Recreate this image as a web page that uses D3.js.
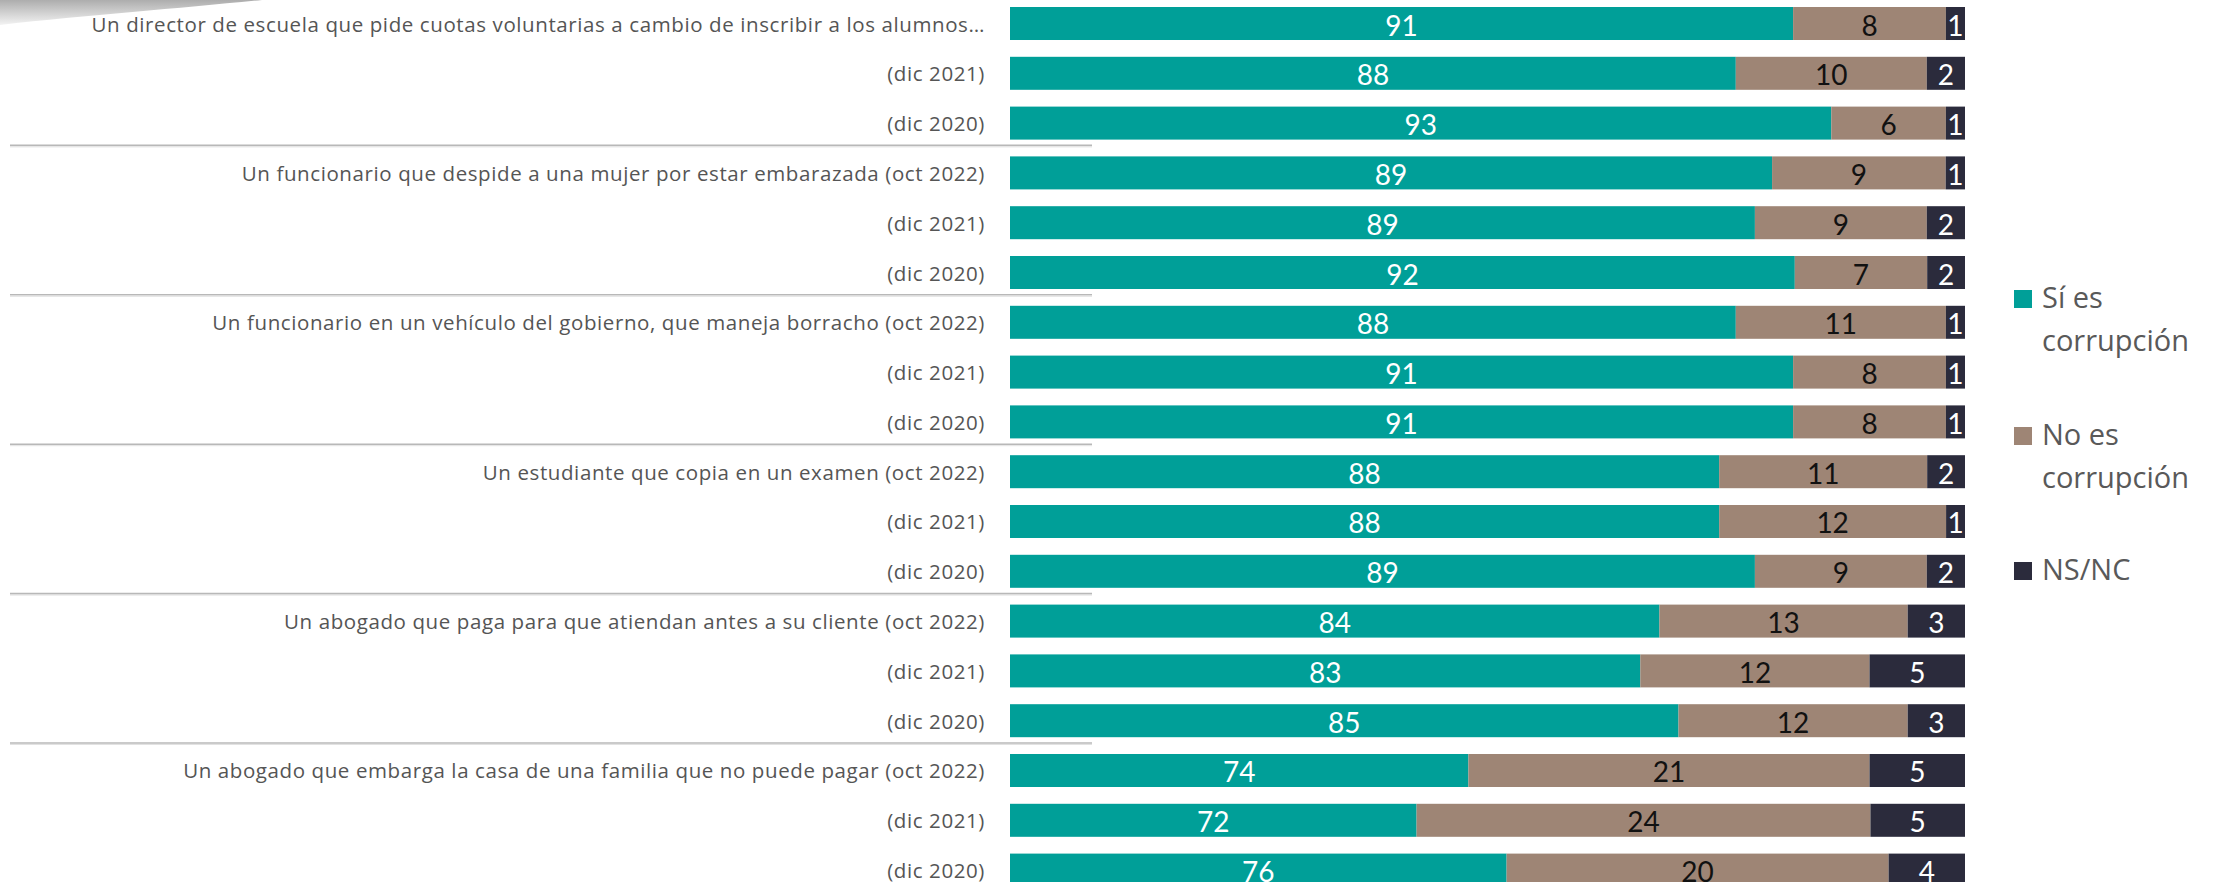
<!DOCTYPE html>
<html>
<head>
<meta charset="utf-8">
<script src="https://cdn.jsdelivr.net/npm/d3@7"></script>
<style>
  html, body { margin: 0; padding: 0; background: #fff; }
  svg { display: block; font-family: Lato, "Open Sans", sans-serif; }
</style>
</head>
<body>
<script>
'use strict';

// rows, top to bottom
const labels = [
  "Un director de escuela que pide cuotas voluntarias a cambio de inscribir a los alumnos…",
  "(dic 2021)",
  "(dic 2020)",
  "Un funcionario que despide a una mujer por estar embarazada (oct 2022)",
  "(dic 2021)",
  "(dic 2020)",
  "Un funcionario en un vehículo del gobierno, que maneja borracho (oct 2022)",
  "(dic 2021)",
  "(dic 2020)",
  "Un estudiante que copia en un examen (oct 2022)",
  "(dic 2021)",
  "(dic 2020)",
  "Un abogado que paga para que atiendan antes a su cliente (oct 2022)",
  "(dic 2021)",
  "(dic 2020)",
  "Un abogado que embarga la casa de una familia que no puede pagar (oct 2022)",
  "(dic 2021)",
  "(dic 2020)"
];

const siEs = [91, 88, 93, 89, 89, 92, 88, 91, 91, 88, 88, 89, 84, 83, 85, 74, 72, 76];
const noEs = [8, 10, 6, 9, 9, 7, 11, 8, 8, 11, 12, 9, 13, 12, 12, 21, 24, 20];
const nsnc = [1, 2, 1, 1, 2, 2, 1, 1, 1, 2, 1, 2, 3, 5, 3, 5, 5, 4];

const seriesNames = ["Sí es corrupción", "No es corrupción", "NS/NC"];
const legendLines = [["Sí es", "corrupción"], ["No es", "corrupción"], ["NS/NC"]];
const axisDomain = [0.5, 1];

const colors = ["#009F98", "#9E8575", "#2B2B3C"];
const textColors = ["#ffffff", "#111111", "#ffffff"];

const W = 2221, H = 882;

const svg = d3.select("body").append("svg")
  .attr("width", W)
  .attr("height", H);

// soft grey shadow in the top-left corner
const defs = svg.append("defs");
const grad = defs.append("linearGradient")
  .attr("id", "corner")
  .attr("x1", 0).attr("y1", 0).attr("x2", 0).attr("y2", 1);
grad.append("stop").attr("offset", "0%").attr("stop-color", "#adadad");
grad.append("stop").attr("offset", "100%").attr("stop-color", "#f3f3f3");
svg.append("path")
  .attr("d", "M0,0 L262,0 C185,8 90,15 0,25 Z")
  .attr("fill", "url(#corner)");

const rows = d3.range(labels.length);
const table = rows.map(i => ({ row: i, s0: siEs[i], s1: noEs[i], s2: nsnc[i] }));

const stack = d3.stack()
  .keys(["s0", "s1", "s2"])
  .offset(d3.stackOffsetExpand);
const stacked = stack(table);

const x = d3.scaleLinear()
  .domain(axisDomain)
  .range([1010, 1965]);

const y = d3.scaleBand()
  .domain(rows)
  .range([-1.4, -1.4 + labels.length * 49.8])
  .paddingInner(0.3373)
  .paddingOuter(0.1687);

// separators between groups
const seps = rows.filter(i => i > 0 && i % 3 === 0);
svg.selectAll(".sep")
  .data(seps)
  .enter()
  .append("line")
  .attr("x1", 10).attr("x2", 1092)
  .attr("y1", d => y(d) - 11)
  .attr("y2", d => y(d) - 11)
  .attr("stroke", "#b8b8b8")
  .attr("stroke-width", 1.6);
svg.selectAll(".sep2")
  .data(seps)
  .enter()
  .append("line")
  .attr("x1", 10).attr("x2", 1092)
  .attr("y1", d => y(d) - 9.5)
  .attr("y2", d => y(d) - 9.5)
  .attr("stroke", "#e2e2e2")
  .attr("stroke-width", 1);

// bars
stacked.forEach((layer, k) => {
  const g = svg.append("g");
  g.selectAll("rect")
    .data(layer)
    .enter()
    .append("rect")
    .attr("x", d => x(Math.max(d[0], axisDomain[0])))
    .attr("y", d => y(d.data.row))
    .attr("width", d => x(d[1]) - x(Math.max(d[0], axisDomain[0])))
    .attr("height", y.bandwidth())
    .attr("fill", colors[k]);

  g.selectAll("text")
    .data(layer)
    .enter()
    .append("text")
    .attr("x", d => (x(Math.max(d[0], axisDomain[0])) + x(d[1])) / 2)
    .attr("y", d => y(d.data.row) + y.bandwidth() / 2 + 1)
    .attr("text-anchor", "middle")
    .attr("dominant-baseline", "central")
    .style("font-size", "28px")
    .style("fill", textColors[k])
    .text(d => d.data["s" + k]);
});

// row labels
svg.append("g")
  .selectAll("text")
  .data(rows)
  .enter()
  .append("text")
  .attr("x", 985)
  .attr("y", d => y(d) + y.bandwidth() / 2)
  .attr("text-anchor", "end")
  .attr("dominant-baseline", "central")
  .style("font-family", "'Open Sans', Lato, sans-serif")
  .style("font-size", "20.5px")
  .style("letter-spacing", "0.6px")
  .style("fill", "#555555")
  .text(d => labels[d]);

// legend
const legendTop = [299, 436, 571];
const legend = svg.append("g");
seriesNames.forEach((name, k) => {
  legend.append("rect")
    .attr("x", 2014)
    .attr("y", legendTop[k] - 9)
    .attr("width", 18)
    .attr("height", 18)
    .attr("fill", colors[k]);
  legendLines[k].forEach((line, j) => {
    legend.append("text")
      .attr("x", 2042)
      .attr("y", legendTop[k] + 9 + j * 43)
      .style("font-family", "'Open Sans', Lato, sans-serif")
      .style("font-size", "29px")
      .style("fill", "#595959")
      .text(line);
  });
});
</script>
</body>
</html>
